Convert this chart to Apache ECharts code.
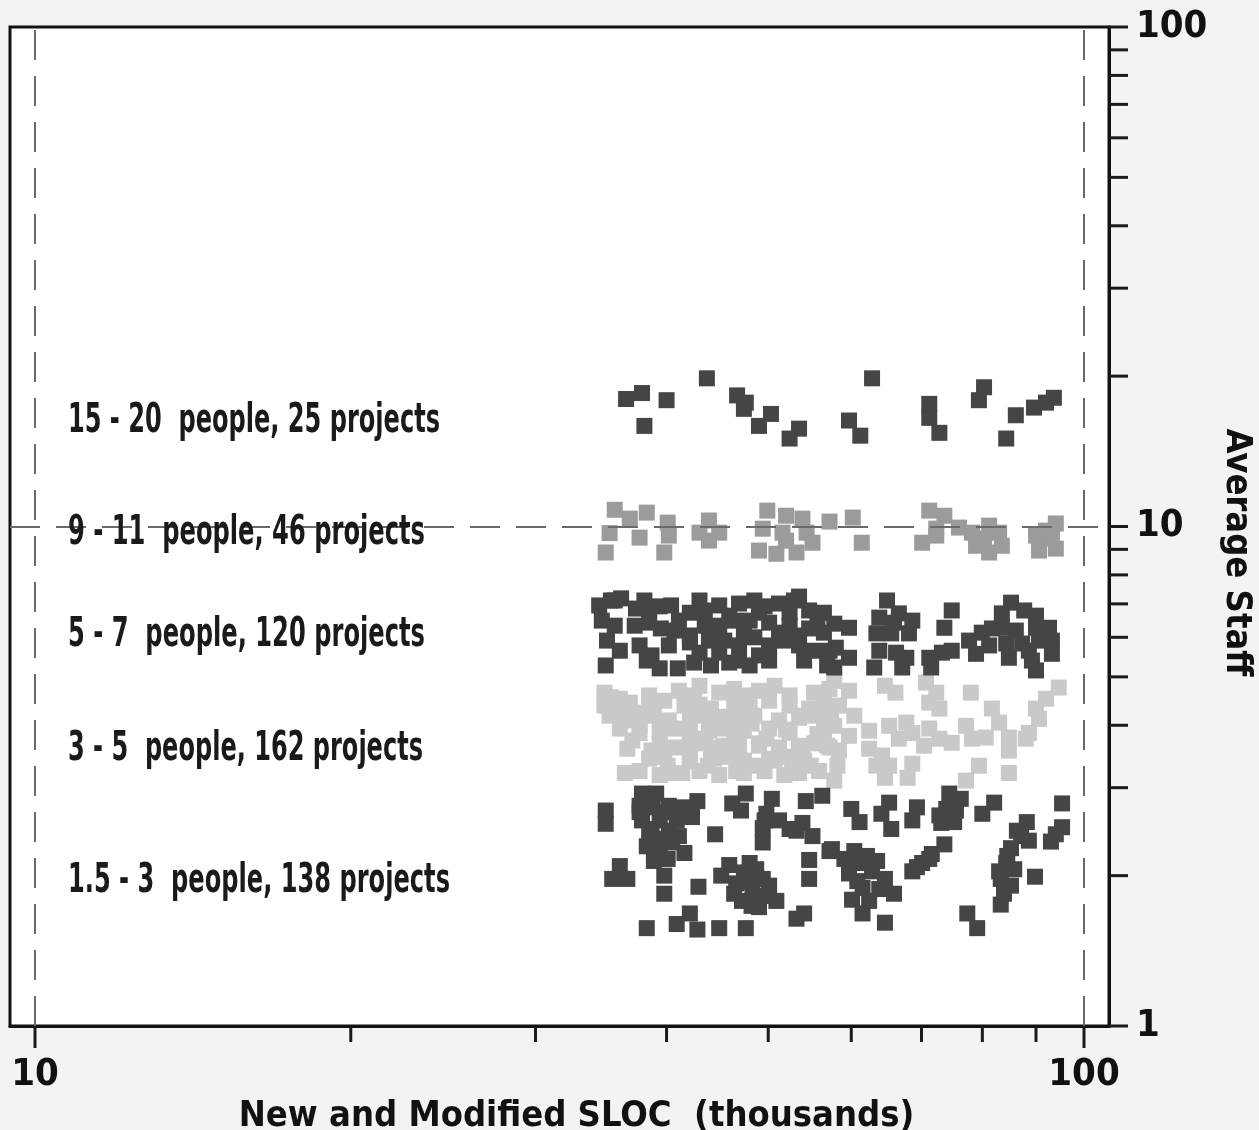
<!DOCTYPE html>
<html><head><meta charset="utf-8">
<script src="https://cdn.jsdelivr.net/npm/echarts@6/dist/echarts.min.js"></script>
<style>html,body{margin:0;padding:0;background:#f3f3f3}#c{width:1259px;height:1130px}</style>
</head><body><div id="c"></div>
<script>
const FONT = "'Liberation Sans Narrow','DejaVu Sans Condensed','Liberation Sans',Arial,sans-serif";

const groupLabels = [
  '15 - 20  people, 25 projects',
  '9 - 11  people, 46 projects',
  '5 - 7  people, 120 projects',
  '3 - 5  people, 162 projects',
  '1.5 - 3  people, 138 projects'
];

const staff15to20 = [[36.6,18.0],[37.9,18.5],[40.0,17.9],[38.1,15.9],[43.7,19.8],[46.7,18.3],[47.6,17.7],[47.4,17.2],[49.0,15.9],[50.3,16.8],[52.4,15.0],[53.5,15.7],[62.8,19.8],[59.7,16.3],[61.2,15.2],[71.2,17.6],[71.2,16.5],[72.8,15.4],[80.3,19.0],[79.4,17.9],[86.1,16.7],[84.3,15.0],[89.6,17.3],[92.0,17.7],[93.6,18.1]];

const staff9to11 = [[35.7,10.8],[35.3,9.70],[35.0,8.87],[36.9,10.37],[38.3,10.66],[37.7,9.50],[40.1,10.18],[39.8,8.87],[40.2,9.59],[43.9,10.28],[43.0,9.72],[44.9,9.72],[43.9,9.37],[49.9,10.76],[52.0,10.51],[53.9,10.37],[49.4,9.90],[51.6,9.72],[54.4,9.72],[49.0,8.95],[50.9,8.82],[53.2,8.87],[55.1,9.28],[57.2,10.23],[60.2,10.42],[61.4,9.28],[71.2,10.76],[73.6,10.51],[72.3,9.90],[70.1,9.28],[72.3,9.59],[76.0,9.95],[78.2,9.72],[81.2,10.04],[83.0,9.72],[78.9,9.15],[81.2,8.87],[83.5,9.15],[94.0,10.14],[90.0,9.59],[93.2,9.46],[90.6,8.95],[94.0,9.03],[52.0,9.37],[80.3,9.46],[92.0,9.81]];

const staff5to7 = [
[34.5,6.95],[35.4,7.11],[36.2,7.18],[37.4,6.85],[38.5,6.79],[39.4,6.92],[40.4,6.95],[42.1,6.72],[43.5,6.79],[44.9,6.95],[46.9,7.01],[48.5,7.11],[49.6,6.92],[51.2,7.01],[52.9,7.11],[53.5,7.24],[54.7,6.79],[56.5,6.72],
[34.7,6.48],[35.7,6.33],[37.3,6.33],[38.5,6.42],[39.5,6.25],[40.7,6.19],[42.1,6.05],[43.5,6.33],[44.9,6.33],[46.4,6.48],[48.0,6.48],[50.1,6.42],[52.4,6.33],[54.7,6.25],[56.5,6.13],
[35.1,5.91],[36.1,5.64],[37.7,5.78],[38.7,5.52],[40.2,5.78],[42.1,5.86],[43.0,5.59],[43.9,5.91],[45.4,5.91],[46.9,5.78],[48.5,6.00],[50.1,5.78],[51.8,5.91],[53.5,5.78],[55.3,5.64],[57.2,5.64],
[35.0,5.27],[38.3,5.39],[39.4,5.20],[41.0,5.20],[42.5,5.34],[44.1,5.27],[45.9,5.34],[48.0,5.27],[50.1,5.39],[54.1,5.39],[56.9,5.27],
[57.8,6.39],[59.7,6.27],[58.0,5.72],[59.7,5.46],[57.8,5.22],
[64.9,7.11],[63.8,6.57],[66.6,6.70],[68.6,6.48],[63.4,6.11],[65.5,6.11],[68.1,6.11],[63.8,5.64],[66.2,5.59],[67.7,5.46],[63.1,5.22],[67.1,5.22],
[74.8,6.79],[73.6,6.27],
[71.2,5.46],[73.2,5.59],[71.5,5.22],[74.8,5.64],
[77.7,5.91],[79.9,6.13],[78.9,5.56],[81.7,6.25],
[85.2,7.04],[83.5,6.70],[87.7,6.79],[90.0,6.63],[83.5,6.27],[86.1,6.19],[90.0,6.27],[92.6,6.27],[84.3,5.83],[87.3,5.83],[90.6,5.91],[93.2,5.91],[84.8,5.46],[89.2,5.39],[93.2,5.56],[90.0,5.15],
[35.7,7.11],[38.1,7.11],[43.0,7.11],[45.9,6.63],[49.0,6.72],[52.4,6.72],[55.7,6.48],[41.1,6.48],[47.4,6.19],[51.2,6.13],[53.5,6.05],[49.0,5.52],[44.9,5.59],[46.9,5.39],[65.9,6.42],[88.6,5.64],[81.2,5.78]
];

const staff3to5 = [
[34.9,4.65],[36.1,4.52],[41.1,4.69],[43.0,4.80],[44.9,4.65],[46.4,4.73],[49.0,4.69],[50.7,4.80],[55.3,4.65],[57.2,4.73],
[34.9,4.38],[35.9,4.32],[36.9,4.44],[38.5,4.36],[39.8,4.48],[43.0,4.40],[44.1,4.32],[46.4,4.44],[48.0,4.36],[50.1,4.48],[52.4,4.38],[54.7,4.32],[56.5,4.44],
[35.3,4.18],[36.5,4.09],[37.7,4.14],[38.9,4.18],[40.2,4.09],[42.1,4.14],[43.5,4.18],[44.9,4.09],[46.9,4.14],[48.5,4.18],[51.2,4.09],[53.5,4.14],[55.9,4.18],
[36.1,3.94],[37.7,3.86],[39.4,3.90],[40.7,3.94],[42.1,3.86],[43.9,3.90],[45.4,3.94],[46.4,3.86],[47.4,3.90],[50.1,3.94],[52.4,3.86],[56.5,3.90],
[36.7,3.59],[39.4,3.68],[40.7,3.61],[42.1,3.64],[43.5,3.68],[44.9,3.61],[46.9,3.64],[49.0,3.68],[51.2,3.61],[53.5,3.64],[55.3,3.68],[57.2,3.61],
[38.5,3.43],[39.8,3.46],[42.1,3.40],[44.4,3.43],[45.9,3.46],[47.4,3.40],[50.1,3.43],[52.4,3.46],[54.1,3.40],
[36.5,3.21],[37.7,3.24],[39.4,3.18],[40.7,3.21],[43.0,3.24],[44.9,3.18],[47.4,3.21],[49.6,3.24],[51.8,3.18],[53.5,3.21],[55.9,3.24],
[57.8,4.91],[59.7,4.69],[58.4,4.38],[60.4,4.18],[57.8,3.99],[59.7,3.81],[58.4,3.56],[58.2,3.32],[57.8,3.10],
[64.6,4.80],[66.1,4.65],
[70.7,4.87],[72.3,4.65],[71.2,4.44],[72.8,4.32],
[78.0,4.65],
[94.6,4.76],[92.0,4.52],[90.0,4.32],[90.6,4.12],
[65.2,3.99],[67.7,4.05],[66.6,3.76],[68.6,3.86],
[71.2,3.94],[72.8,3.76],[74.8,3.69],[77.2,3.99],[78.2,3.76],[80.6,3.78],
[81.7,4.32],[83.0,4.05],
[84.8,3.78],[88.0,3.76],[84.8,3.56],[88.6,3.86],
[62.4,3.59],[64.2,3.48],[63.4,3.32],[65.2,3.32],[64.6,3.14],
[68.6,3.35],[67.9,3.14],
[79.4,3.32],[77.2,3.10],[84.8,3.21],
[35.4,4.55],[38.1,4.24],[39.5,4.01],[41.6,4.38],[42.7,3.76],[44.1,3.53],[45.6,4.16],[48.2,4.03],[49.8,3.76],[52.0,3.92],[53.9,3.56],[55.7,3.84],
[37.1,3.73],[38.7,3.56],[40.1,3.32],[41.4,3.21],[43.8,3.32],[46.6,3.24],[48.7,3.32],[50.7,3.40],[52.7,3.24],[54.9,3.32],[56.9,3.64],[57.4,4.28],
[36.5,4.38],[38.5,4.59],[42.5,4.59],[47.4,4.59],[52.4,4.59],[54.1,4.18],[45.4,3.64],[49.0,3.64],[42.1,3.40],[37.7,3.99],[62.4,3.90],[70.4,3.64]
];

const staff1p5to3 = [
[35.0,2.70],[35.0,2.54],
[37.9,2.92],[39.1,2.92],[37.7,2.76],[38.8,2.74],[40.2,2.76],[41.4,2.74],[42.8,2.82],[37.9,2.58],[39.4,2.58],[40.9,2.58],[42.3,2.62],[40.2,2.46],[38.3,2.29],[39.4,2.24],[40.5,2.33],[41.6,2.22],[38.9,2.14],
[39.8,2.00],[39.8,1.84],
[36.1,2.09],[35.5,1.97],[36.7,1.97],
[44.5,2.42],[42.9,1.90],
[47.6,2.92],[46.2,2.79],[47.1,2.70],
[50.4,2.85],[49.8,2.66],[49.4,2.49],[49.4,2.33],
[52.4,2.48],[53.9,2.55],[55.1,2.40],
[54.3,2.82],[56.3,2.89],
[57.2,2.24],
[54.7,2.15],[54.7,1.97],
[48.0,2.12],[45.1,2.00],[46.6,1.93],[49.4,1.97],[48.3,1.86],[47.2,1.78],[49.0,1.73],[50.9,1.78],
[53.2,1.64],[54.1,1.68],
[38.3,1.57],[40.9,1.60],[42.1,1.68],[42.8,1.56],[44.9,1.57],[47.6,1.57],
[57.5,2.26],[60.0,2.72],[61.1,2.56],
[65.2,2.80],[64.1,2.66],[65.5,2.48],
[69.3,2.74],[68.6,2.58],
[74.4,2.92],[76.3,2.85],[73.9,2.72],[73.1,2.55],[75.2,2.56],
[73.6,2.31],[71.6,2.21],[70.1,2.12],[68.6,2.04],
[82.1,2.80],[80.0,2.66],
[60.4,2.24],[62.1,2.19],[59.7,2.02],[62.8,2.04],[64.6,1.97],[61.5,1.89],[60.1,1.79],[65.9,1.84],[61.5,1.68],
[64.6,1.61],
[77.4,1.68],[79.1,1.57],
[88.2,2.56],[86.3,2.46],[88.6,2.35],[85.2,2.27],[84.3,2.12],[83.3,1.97],[85.2,1.91],[83.3,1.75],
[89.8,1.99],
[93.0,2.34],
[95.3,2.79],[95.3,2.50],[94.0,2.42],
[38.3,2.82],[39.6,2.68],[40.9,2.68],[42.1,2.73],[38.5,2.40],[39.8,2.37],[41.1,2.40],[38.7,2.48],[40.1,2.16],[37.7,2.68],
[45.9,2.10],[47.4,2.03],[48.7,2.06],[50.1,1.91],[47.8,1.94],[46.4,1.84],[49.8,1.82],[48.2,1.74],
[61.3,2.12],[63.5,2.14],[60.8,1.95],[63.8,1.88],[62.4,1.78],[60.7,2.12],[59.1,2.16],
[87.1,2.40],[84.5,2.19],[83.0,2.04],[85.8,2.06],[83.9,1.84],
[49.6,2.58],[51.2,2.58],[53.2,2.46],[72.8,2.64],[75.5,2.70],[71.2,2.16],[69.3,2.08]
];

const xTickValues = [10,20,30,40,50,60,70,80,90,100];
const xLabelValues = [10,100];
const yTickValues = [1,2,3,4,5,6,7,8,9,10,20,30,40,50,60,70,80,90,100];
const refX = [10,100];
const refY = [10];

// axis range: x decade ends sit 25px inside the frame
const X_MIN = Math.pow(10, 1 - 25/1049);
const X_MAX = Math.pow(10, 2 + 25/1049);

const DARK = '#454545', MID = '#9b9b9b', LIGHT = '#c9c9c9';

const ctx = document.createElement('canvas').getContext('2d');
function fitScale(text, size, target){
  ctx.font = 'bold ' + size + 'px ' + FONT;
  return target / ctx.measureText(text).width;
}
const labelY = [422, 534, 636, 750, 882];
const labelW = [372, 357, 357, 355, 382];

const chart = echarts.init(document.getElementById('c'));

function sq(data, color, name, z){
  return {type:'scatter', name, data, symbol:'rect', symbolSize:16, z,
    itemStyle:{color, opacity:1}, silent:true, animation:false};
}

chart.setOption({
  backgroundColor:'#f3f3f3',
  animation:false,
  grid:{left:10, top:27, width:1099, height:999, containLabel:false, outerBoundsMode:'none',
    show:true, backgroundColor:'#ffffff', borderColor:'#111', borderWidth:3},
  xAxis:{type:'log', logBase:10, min:X_MIN, max:X_MAX,
    axisLine:{show:true, lineStyle:{color:'#111', width:3}},
    axisTick:{show:false}, splitLine:{show:false}, minorTick:{show:false},
    axisLabel:{margin:30, color:'#111', fontSize:38, fontWeight:'bold', fontFamily:FONT,
      formatter:function(v){ for (const t of xLabelValues){ if (Math.abs(v-t) < 1e-6*t) return String(t);} return ''; }},
    name:'New and Modified SLOC  (thousands)', nameLocation:'middle', nameGap:51,
    nameTextStyle:{fontSize:36, fontWeight:'bold', color:'#111', fontFamily:FONT, padding:[0,0,0,34]}
  },
  yAxis:{type:'log', logBase:10, min:1, max:100, position:'right',
    axisLine:{show:true, lineStyle:{color:'#111', width:3}},
    axisTick:{show:false}, splitLine:{show:false},
    axisLabel:{margin:27, color:'#111', fontSize:38, fontWeight:'bold', fontFamily:FONT},
    name:'Average Staff', nameLocation:'middle', nameRotate:-90, nameGap:81,
    nameTextStyle:{fontSize:36, fontWeight:'bold', color:'#111', fontFamily:FONT, padding:[0,0,0,52]}
  },
  series:[
    {type:'scatter', data:[], z:1, silent:true,
      markLine:{silent:true, symbol:'none', label:{show:false}, animation:false,
        lineStyle:{color:'#6a6a6a', width:2, type:[30,16]},
        data: refX.map(v=>({xAxis:v})).concat(refY.map(v=>({yAxis:v})))}},
    sq(staff3to5, LIGHT, '3 - 5', 2),
    sq(staff15to20, DARK, '15 - 20', 3),
    sq(staff9to11, MID, '9 - 11', 3),
    sq(staff5to7, DARK, '5 - 7', 3),
    sq(staff1p5to3, DARK, '1.5 - 3', 3),
    {type:'custom', coordinateSystem:'cartesian2d', silent:true, clip:false, z:6,
      data: xTickValues.map(v=>[v,1]),
      renderItem:function(params, api){
        const v = api.value(0); const p = api.coord([v,1]);
        const len = xLabelValues.indexOf(v) >= 0 ? 22 : 16;
        return {type:'line', shape:{x1:p[0], y1:p[1], x2:p[0], y2:p[1]+len}, style:{stroke:'#1a1a1a', lineWidth:3}};
      }},
    {type:'custom', coordinateSystem:'cartesian2d', silent:true, clip:false, z:6,
      data: yTickValues.map(v=>[X_MAX,v]),
      renderItem:function(params, api){
        const v = api.value(1); const p = api.coord([X_MAX,v]);
        return {type:'line', shape:{x1:p[0], y1:p[1], x2:p[0]+19, y2:p[1]}, style:{stroke:'#1a1a1a', lineWidth:3}};
      }}
  ],
  graphic: groupLabels.map((t,i)=>({type:'text', x:68, y:labelY[i], scaleX:fitScale(t,40,labelW[i]), z:10,
    style:{text:t, fontSize:40, fontWeight:'bold', fontFamily:FONT, fill:'#1a1a1a', align:'left', verticalAlign:'middle'}}))
});
</script></body></html>
